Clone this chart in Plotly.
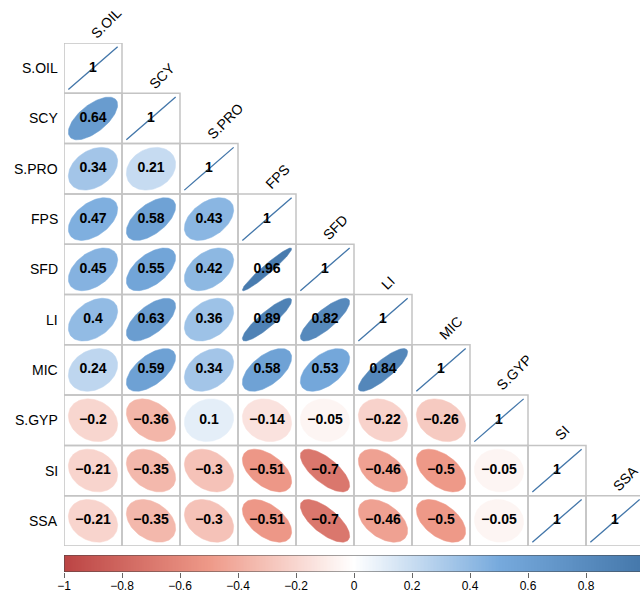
import numpy as np
import plotly.graph_objects as go

# Variables (row order = column order)
variables = ["S.OIL", "SCY", "S.PRO", "FPS", "SFD", "LI", "MIC", "S.GYP", "SI", "SSA"]

# Lower-triangle correlation coefficients, one list per row
r_scy = [0.64]
r_spro = [0.34, 0.21]
r_fps = [0.47, 0.58, 0.43]
r_sfd = [0.45, 0.55, 0.42, 0.96]
r_li = [0.40, 0.63, 0.36, 0.89, 0.82]
r_mic = [0.24, 0.59, 0.34, 0.58, 0.53, 0.84]
r_sgyp = [-0.20, -0.36, 0.10, -0.14, -0.05, -0.22, -0.26]
r_si = [-0.21, -0.35, -0.30, -0.51, -0.70, -0.46, -0.50, -0.05]
r_ssa = [-0.21, -0.35, -0.30, -0.51, -0.70, -0.46, -0.50, -0.05, 1.00]

lower_rows = [[], r_scy, r_spro, r_fps, r_sfd, r_li, r_mic, r_sgyp, r_si, r_ssa]

# Colour bar tick values
bar_ticks = [-1, -0.8, -0.6, -0.4, -0.2, 0, 0.2, 0.4, 0.6, 0.8]

# Diverging palette (red -> white -> blue)
pal_stops = [-1.0, -0.5, 0.0, 0.5, 1.0]
pal_hex = ["#BB4444", "#EE9988", "#FFFFFF", "#77AADD", "#4477AA"]

FONT = "Liberation Sans, Arial, sans-serif"


def hex_rgb(h):
    h = h.lstrip("#")
    return np.array([int(h[i:i + 2], 16) for i in (0, 2, 4)], dtype=float)


pal_rgb = np.array([hex_rgb(h) for h in pal_hex])


def corr_color(v):
    rgb = [np.interp(v, pal_stops, pal_rgb[:, c]) for c in range(3)]
    return "rgb({:.0f},{:.0f},{:.0f})".format(*rgb)


def fmt(v):
    s = f"{round(v, 2):g}"
    return s.replace("-", "\u2212")


n = len(variables)
matrix = np.full((n, n), np.nan)
for i, row in enumerate(lower_rows):
    for j, v in enumerate(row):
        matrix[i, j] = v
    matrix[i, i] = 1.0

fig = go.Figure()

# Ellipse glyphs (corrplot style): flattened along the diagonal by |r|
k = np.linspace(0, 2 * np.pi, 99)
scale = 0.85
txt_x, txt_y, txt_s = [], [], []
for i in range(n):
    for j in range(i + 1):
        r = matrix[i, j]
        d = np.arccos(np.clip(r, -1, 1))
        ex = j + scale * np.cos(k + d / 2) / 2
        ey = i - scale * np.cos(k - d / 2) / 2
        col = corr_color(r)
        if abs(r) >= 0.999:
            fig.add_trace(go.Scatter(x=ex, y=ey, mode="lines",
                                     line=dict(color=col, width=1.3),
                                     hoverinfo="skip", showlegend=False))
        else:
            fig.add_trace(go.Scatter(x=ex, y=ey, mode="lines", fill="toself",
                                     fillcolor=col, line=dict(color=col, width=0.5),
                                     hoverinfo="skip", showlegend=False))
        txt_x.append(j)
        txt_y.append(i)
        txt_s.append(fmt(r))

# Coefficient labels
fig.add_trace(go.Scatter(x=txt_x, y=txt_y, text=txt_s, mode="text",
                         textfont=dict(family=FONT, size=14, color="black", weight="bold"),
                         hoverinfo="skip", showlegend=False))

# Colour bar as a heatmap strip on its own axes
bar_x = np.linspace(-1, 1, 401)
colorscale = [[(s + 1) / 2, h] for s, h in zip(pal_stops, pal_hex)]
fig.add_trace(go.Heatmap(x=bar_x, y=[0.5], z=[bar_x], zmin=-1, zmax=1,
                         colorscale=colorscale, showscale=False, hoverinfo="skip",
                         xaxis="x2", yaxis="y2"))

# Cell grid
shapes = []
for i in range(n):
    for j in range(i + 1):
        shapes.append(dict(type="rect", xref="x", yref="y",
                           x0=j - 0.5, x1=j + 0.5, y0=i - 0.5, y1=i + 0.5,
                           line=dict(color="#C4C4C4", width=1.5), layer="below"))
shapes.append(dict(type="rect", xref="x2", yref="y2", x0=-1, x1=1, y0=0, y1=1,
                   line=dict(color="#444444", width=1), layer="above"))

# Row and column labels
annotations = []
for i, name in enumerate(variables):
    annotations.append(dict(x=-0.5, y=i, xref="x", yref="y", text=name,
                            showarrow=False, xanchor="right", yanchor="middle",
                            xshift=-4, font=dict(family=FONT, size=14, color="black")))
    annotations.append(dict(x=i, y=i - 0.5, xref="x", yref="y", text=name,
                            showarrow=False, xanchor="left", yanchor="bottom",
                            textangle=-45, xshift=-8, yshift=-1,
                            font=dict(family=FONT, size=14, color="black")))

W, H = 640, 592
fig.update_layout(
    width=W, height=H,
    margin=dict(l=0, r=0, t=0, b=0),
    paper_bgcolor="white", plot_bgcolor="white",
    shapes=shapes, annotations=annotations,
    xaxis=dict(domain=[64 / W, 1], range=[-0.5, -0.5 + 576 / 58], visible=False,
               fixedrange=True, automargin=False),
    yaxis=dict(domain=[(H - 546) / H, (H - 43) / H], range=[n - 0.5, -0.5],
               visible=False, fixedrange=True, automargin=False),
    xaxis2=dict(domain=[64 / W, 1], range=[-1, -1 + 2 * 576 / 580], anchor="y2",
                tickvals=bar_ticks, ticks="outside", ticklen=5, tickcolor="#666666",
                tickwidth=1, showgrid=False, zeroline=False, showline=False,
                automargin=False, ticklabelstandoff=-2,
                tickfont=dict(family=FONT, size=12, color="black")),
    yaxis2=dict(domain=[(H - 572) / H, (H - 555) / H], range=[0, 1], visible=False,
                anchor="x2", automargin=False),
)

fig.write_html("out.html")
